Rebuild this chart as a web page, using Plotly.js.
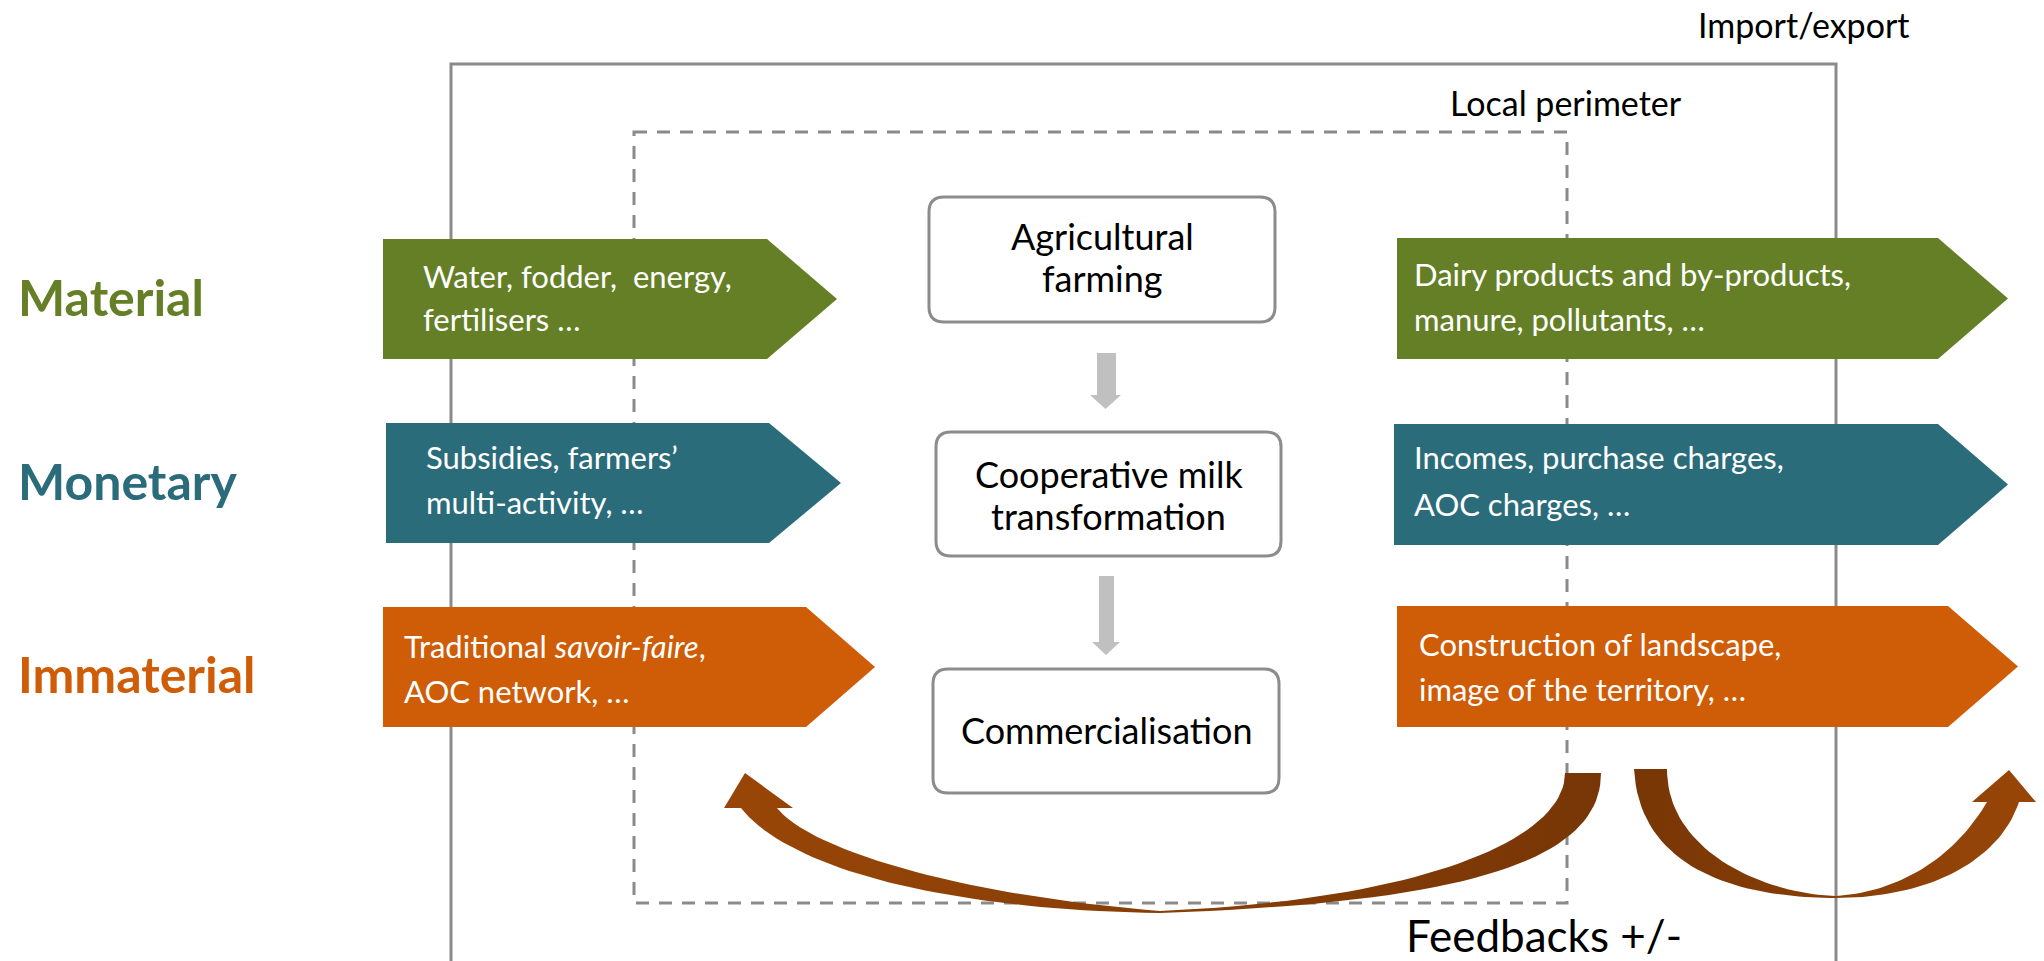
<!DOCTYPE html>
<html>
<head>
<meta charset="utf-8">
<script src="https://cdn.plot.ly/plotly-3.0.1.min.js"></script>
<style>html,body{margin:0;padding:0;background:#fff;}#chart{width:2044px;height:961px;}</style>
</head>
<body>
<div id="chart"></div>
<script>
// ---------- content ----------
const rowLabels = ['Material', 'Monetary', 'Immaterial'];
const inputLines = [
  ['Water, fodder,\u00a0 energy,', 'fertilisers …'],
  ['Subsidies, farmers’', 'multi-activity, …'],
  ['Traditional <i>savoir-faire</i>,', 'AOC network, …']
];
const outputLines = [
  ['Dairy products and by-products,', 'manure, pollutants, …'],
  ['Incomes, purchase charges,', 'AOC charges, …'],
  ['Construction of landscape,', 'image of the territory, …']
];
const processSteps = [
  ['Agricultural', 'farming'],
  ['Cooperative milk', 'transformation'],
  ['Commercialisation']
];
const frameLabels = ['Import/export', 'Local perimeter'];
const feedbackLabel = 'Feedbacks +/-';

// ---------- style ----------
const rowColors = ['#657f27', '#2b6c7b', '#cf5c06'];
const FONT = 'Lato, "Open Sans", sans-serif';
const frameGray = '#8a8a8a';
const boxGray = '#8c8c8c';
const flowGray = '#c0c0c0';
const brownDark = '#783606';
const brownLight = '#984607';

// ---------- geometry (pixel layout) ----------
const G = {
  outer: {l: 451, r: 1836, t: 64},
  dashed: {l: 634, r: 1567, t: 132, b: 903},
  inArrows: [
    {l: 383, t: 239, b: 359, s: 767, tip: 837},
    {l: 386, t: 423, b: 543, s: 769, tip: 841},
    {l: 383, t: 607, b: 727, s: 806, tip: 875}
  ],
  outArrows: [
    {l: 1397, t: 238, b: 359, s: 1938, tip: 2008},
    {l: 1394, t: 424, b: 545, s: 1938, tip: 2008},
    {l: 1397, t: 606, b: 727, s: 1948, tip: 2018}
  ],
  inText: [{x: 422, b: [287, 330]}, {x: 425, b: [468, 513]}, {x: 403, b: [657, 702]}],
  outText: [{x: 1413, b: [285, 330]}, {x: 1413, b: [468, 515]}, {x: 1418, b: [655, 700]}],
  rowLabelY: [297, 481, 674],
  boxes: [
    {l: 929, r: 1275, t: 197, b: 322, base: [248, 290]},
    {l: 936, r: 1281, t: 432, b: 556, base: [486, 528]},
    {l: 933, r: 1279, t: 669, b: 793, base: [742]}
  ],
  flows: [
    {l: 1097, r: 1116, t: 353, hs: 395, hl: 1090, hr: 1121, tip: 409},
    {l: 1099, r: 1114, t: 576, hs: 642, hl: 1092, hr: 1120, tip: 655}
  ]
};

const fs = {label: 50, arrow: 31, box: 36, frame: 34, feedback: 44};

function rrect(l, t, r, b, rad) {
  return `M${l + rad},${t} L${r - rad},${t} Q${r},${t} ${r},${t + rad} L${r},${b - rad} Q${r},${b} ${r - rad},${b} ` +
         `L${l + rad},${b} Q${l},${b} ${l},${b - rad} L${l},${t + rad} Q${l},${t} ${l + rad},${t} Z`;
}
function pent(a) {
  const m = (a.t + a.b) / 2;
  return `M${a.l},${a.t} L${a.s},${a.t} L${a.tip},${m} L${a.s},${a.b} L${a.l},${a.b} Z`;
}

const shapes = [];
// outer solid frame (open at bottom)
shapes.push({type: 'path', xref: 'x', yref: 'y', layer: 'below',
  path: `M${G.outer.l},980 L${G.outer.l},${G.outer.t} L${G.outer.r},${G.outer.t} L${G.outer.r},980`,
  line: {color: frameGray, width: 3}});
// dashed local perimeter
shapes.push({type: 'rect', xref: 'x', yref: 'y', layer: 'below',
  x0: G.dashed.l, x1: G.dashed.r, y0: G.dashed.t, y1: G.dashed.b,
  line: {color: frameGray, width: 3, dash: '13px,10px'}});
// arrows
G.inArrows.forEach((a, i) => shapes.push({type: 'path', xref: 'x', yref: 'y', layer: 'above',
  path: pent(a), fillcolor: rowColors[i], line: {width: 0}}));
G.outArrows.forEach((a, i) => shapes.push({type: 'path', xref: 'x', yref: 'y', layer: 'above',
  path: pent(a), fillcolor: rowColors[i], line: {width: 0}}));
// process boxes
G.boxes.forEach(b => shapes.push({type: 'path', xref: 'x', yref: 'y', layer: 'above',
  path: rrect(b.l, b.t, b.r, b.b, 15), fillcolor: '#ffffff', line: {color: boxGray, width: 3}}));
// gray flow arrows
G.flows.forEach(f => {
  const c = (f.hl + f.hr) / 2;
  shapes.push({type: 'path', xref: 'x', yref: 'y', layer: 'above',
    path: `M${f.l},${f.t} L${f.r},${f.t} L${f.r},${f.hs} L${f.hr},${f.hs} L${c},${f.tip} L${f.hl},${f.hs} L${f.l},${f.hs} Z`,
    fillcolor: flowGray, line: {width: 0}});
});

// ---------- curved feedback arrows ----------
function bez(p0, p1, p2, p3, n) {
  const out = [];
  for (let i = 0; i <= n; i++) {
    const t = i / n, u = 1 - t;
    out.push([u*u*u*p0[0] + 3*u*u*t*p1[0] + 3*u*t*t*p2[0] + t*t*t*p3[0],
              u*u*u*p0[1] + 3*u*u*t*p1[1] + 3*u*t*t*p2[1] + t*t*t*p3[1]]);
  }
  return out;
}
const N = 40;
// left feedback arrow
let L = [];
L.push([745, 773], [793, 808], [777, 808]);
L = L.concat(bez([777, 808], [810, 850], [960, 895], [1160, 911], N));
L = L.concat(bez([1160, 911], [1420, 900], [1565, 840], [1565, 773], N));
L.push([1601, 773]);
L = L.concat(bez([1601, 773], [1601, 850], [1500, 902], [1160, 913], N));
L = L.concat(bez([1160, 913], [950, 910], [790, 870], [741, 808], N));
L.push([724, 808], [745, 773]);
// right U arrow
let R = [];
R.push([1634, 769], [1667, 769]);
R = R.concat(bez([1667, 769], [1667, 850], [1760, 893], [1835, 896], N));
R = R.concat(bez([1835, 896], [1890, 893], [1950, 865], [1987, 802], N));
R.push([1972, 802], [2009, 770], [2036, 802], [2019, 802]);
R = R.concat(bez([2019, 802], [2000, 860], [1930, 898], [1835, 898], N));
R = R.concat(bez([1835, 898], [1760, 898], [1640, 880], [1634, 769], N));

function fillTrace(pts, scale) {
  return {type: 'scatter', mode: 'lines', x: pts.map(p => p[0]), y: pts.map(p => p[1]),
    fill: 'toself', line: {width: 0, color: 'rgba(0,0,0,0)'}, hoverinfo: 'skip', showlegend: false,
    fillcolor: scale[0][1],
    fillgradient: {type: 'horizontal', colorscale: scale}};
}
const traces = [
  fillTrace(L, [[0, brownLight], [1, brownDark]]),
  fillTrace(R, [[0, brownDark], [1, brownLight]])
];

// ---------- annotations ----------
const ann = [];
function line(text, x, base, size, color, xanchor, bold) {
  ann.push({xref: 'x', yref: 'y', x: x, y: base - 0.34 * size, xanchor: xanchor, yanchor: 'middle',
    text: bold ? `<b>${text}</b>` : text, showarrow: false,
    font: {family: FONT, size: size, color: color}, borderpad: 0});
}
rowLabels.forEach((t, i) => ann.push({xref: 'x', yref: 'y', x: 16, y: G.rowLabelY[i], xanchor: 'left', yanchor: 'middle',
  text: `<b>${t}</b>`, showarrow: false, font: {family: FONT, size: fs.label, color: rowColors[i]}}));
inputLines.forEach((ls, i) => ls.forEach((t, j) => line(t, G.inText[i].x, G.inText[i].b[j], fs.arrow, '#ffffff', 'left')));
outputLines.forEach((ls, i) => ls.forEach((t, j) => line(t, G.outText[i].x, G.outText[i].b[j], fs.arrow, '#ffffff', 'left')));
processSteps.forEach((ls, i) => {
  const b = G.boxes[i];
  ls.forEach((t, j) => line(t, (b.l + b.r) / 2, b.base[j], fs.box, '#000000', 'center'));
});
line(frameLabels[0], 1697, 36, fs.frame, '#000000', 'left');
line(frameLabels[1], 1449, 114, fs.frame, '#000000', 'left');
line(feedbackLabel, 1405, 950, fs.feedback, '#000000', 'left');

const layout = {
  width: 2044, height: 961,
  margin: {l: 0, r: 0, t: 0, b: 0},
  paper_bgcolor: '#ffffff', plot_bgcolor: '#ffffff',
  xaxis: {range: [0, 2044], visible: false, fixedrange: true},
  yaxis: {range: [961, 0], visible: false, fixedrange: true},
  shapes: shapes, annotations: ann, showlegend: false
};
Plotly.newPlot('chart', traces, layout, {staticPlot: true, displayModeBar: false});
</script>
</body>
</html>
